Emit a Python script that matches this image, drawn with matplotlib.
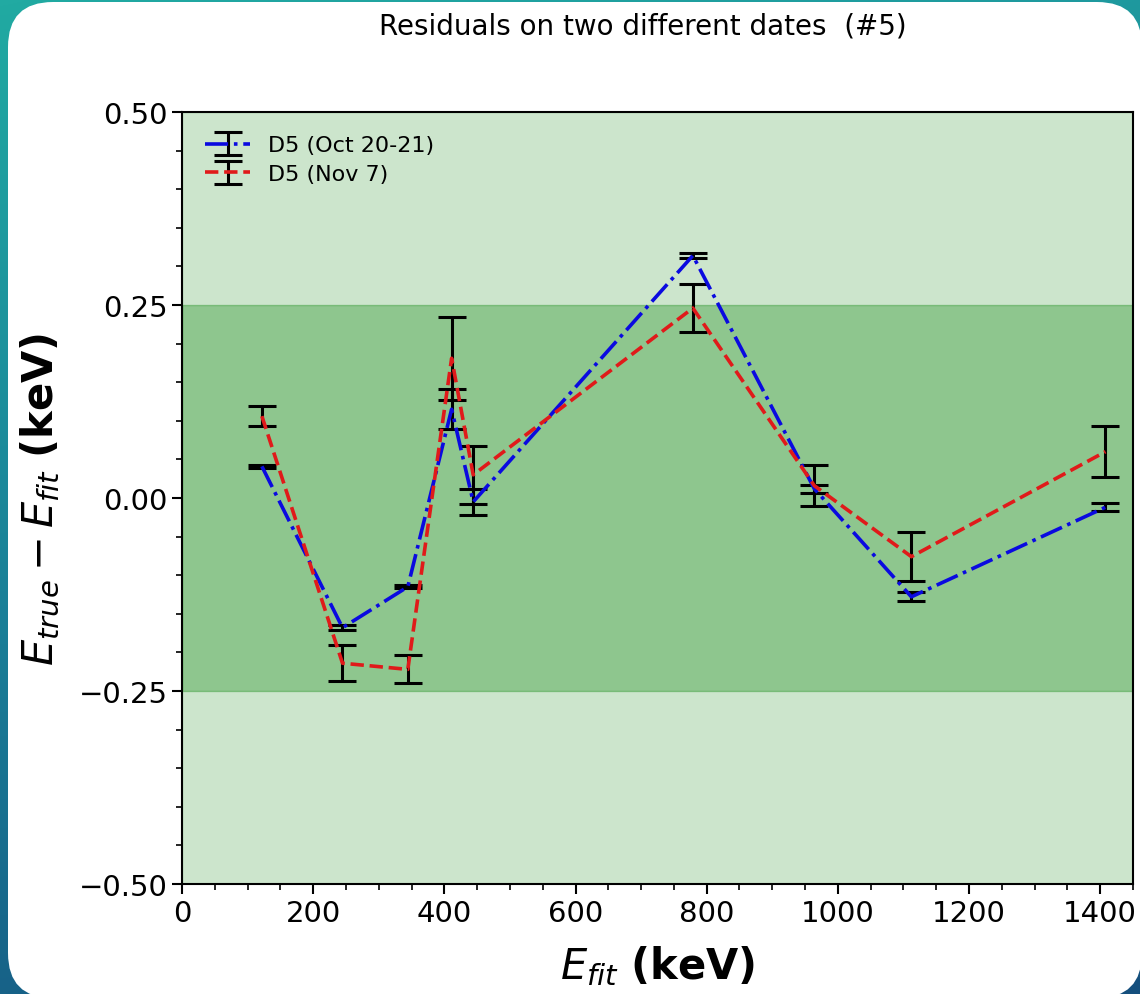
import numpy as np
import matplotlib
matplotlib.use("Agg")
import matplotlib.pyplot as plt
from matplotlib.patches import FancyBboxPatch
from matplotlib.ticker import MultipleLocator
from matplotlib.colors import LinearSegmentedColormap

# Eu-152 calibration lines (keV) and fit residuals for the two runs
energies = [121.8, 244.7, 344.3, 411.1, 444.0, 778.9, 964.1, 1112.1, 1408.0]
resid_oct = [0.041, -0.168, -0.115, 0.115, -0.005, 0.314, 0.012, -0.128, -0.012]
err_oct = [0.002, 0.003, 0.002, 0.026, 0.017, 0.003, 0.005, 0.006, 0.005]
resid_nov = [0.106, -0.214, -0.222, 0.181, 0.030, 0.246, 0.016, -0.076, 0.060]
err_nov = [0.013, 0.023, 0.018, 0.054, 0.038, 0.031, 0.027, 0.032, 0.033]

label_oct = "D5 (Oct 20-21)"
label_nov = "D5 (Nov 7)"
title = "Residuals on two different dates  (#5)"

W, H = 1140, 995
fig = plt.figure(figsize=(W / 100, H / 100), dpi=100)

# backdrop: teal-to-blue gradient with a white rounded card on top
bg = fig.add_axes([0, 0, 1, 1], zorder=-10)
bg.set_xlim(0, W)
bg.set_ylim(H, 0)
bg.axis("off")
yy, xx = np.mgrid[0:H:4, 0:W:4]
t = 0.8 * yy / H + 0.2 * xx / W
cmap = LinearSegmentedColormap.from_list("bgrad", ["#21aaa2", "#1a7f98", "#154f7d"])
bg.imshow(t, cmap=cmap, extent=(0, W, H, 0), aspect="auto", interpolation="bilinear")
card = FancyBboxPatch((8, 3), W + 2 - 8, H + 4 - 3,
                      boxstyle="round,pad=0,rounding_size=45",
                      facecolor="white", edgecolor="none")
bg.add_patch(card)

ax = fig.add_axes([182 / W, 1 - 885 / H, (1133 - 182) / W, (885 - 113) / H])
ax.axhspan(-0.5, 0.5, color="green", alpha=0.2, zorder=0)
ax.axhspan(-0.25, 0.25, color="green", alpha=0.3, zorder=0)

ax.errorbar(energies, resid_oct, yerr=err_oct, fmt="-.", color="#0a0ae0", lw=2.6,
            ecolor="black", elinewidth=2.2, capsize=10, capthick=2.2, label=label_oct)
ax.errorbar(energies, resid_nov, yerr=err_nov, fmt="--", color="#e01a1a", lw=2.6,
            ecolor="black", elinewidth=2.2, capsize=10, capthick=2.2, label=label_nov)

ax.set_xlim(0, 1450)
ax.set_ylim(-0.5, 0.5)
ax.set_yticks([-0.5, -0.25, 0.0, 0.25, 0.5])
ax.yaxis.set_minor_locator(MultipleLocator(0.05))
ax.xaxis.set_minor_locator(MultipleLocator(50))
ax.tick_params(which="major", labelsize=21, length=7, width=1.5)
ax.tick_params(which="minor", length=4, width=1.2)
for s in ax.spines.values():
    s.set_linewidth(1.5)

ax.set_xlabel(r"$E_{fit}$ $\mathbf{(keV)}$", fontsize=30, labelpad=12)
ax.set_ylabel(r"$E_{true} - E_{fit}$ $\mathbf{(keV)}$", fontsize=30, labelpad=12)

ax.legend(loc="upper left", frameon=False, fontsize=16, handlelength=2.0,
          borderaxespad=0.65, labelspacing=0.4, handletextpad=0.8)

fig.text(643 / W, 1 - 26 / H, title, ha="center", va="center", fontsize=20)

fig.savefig("out.png", dpi=100)
